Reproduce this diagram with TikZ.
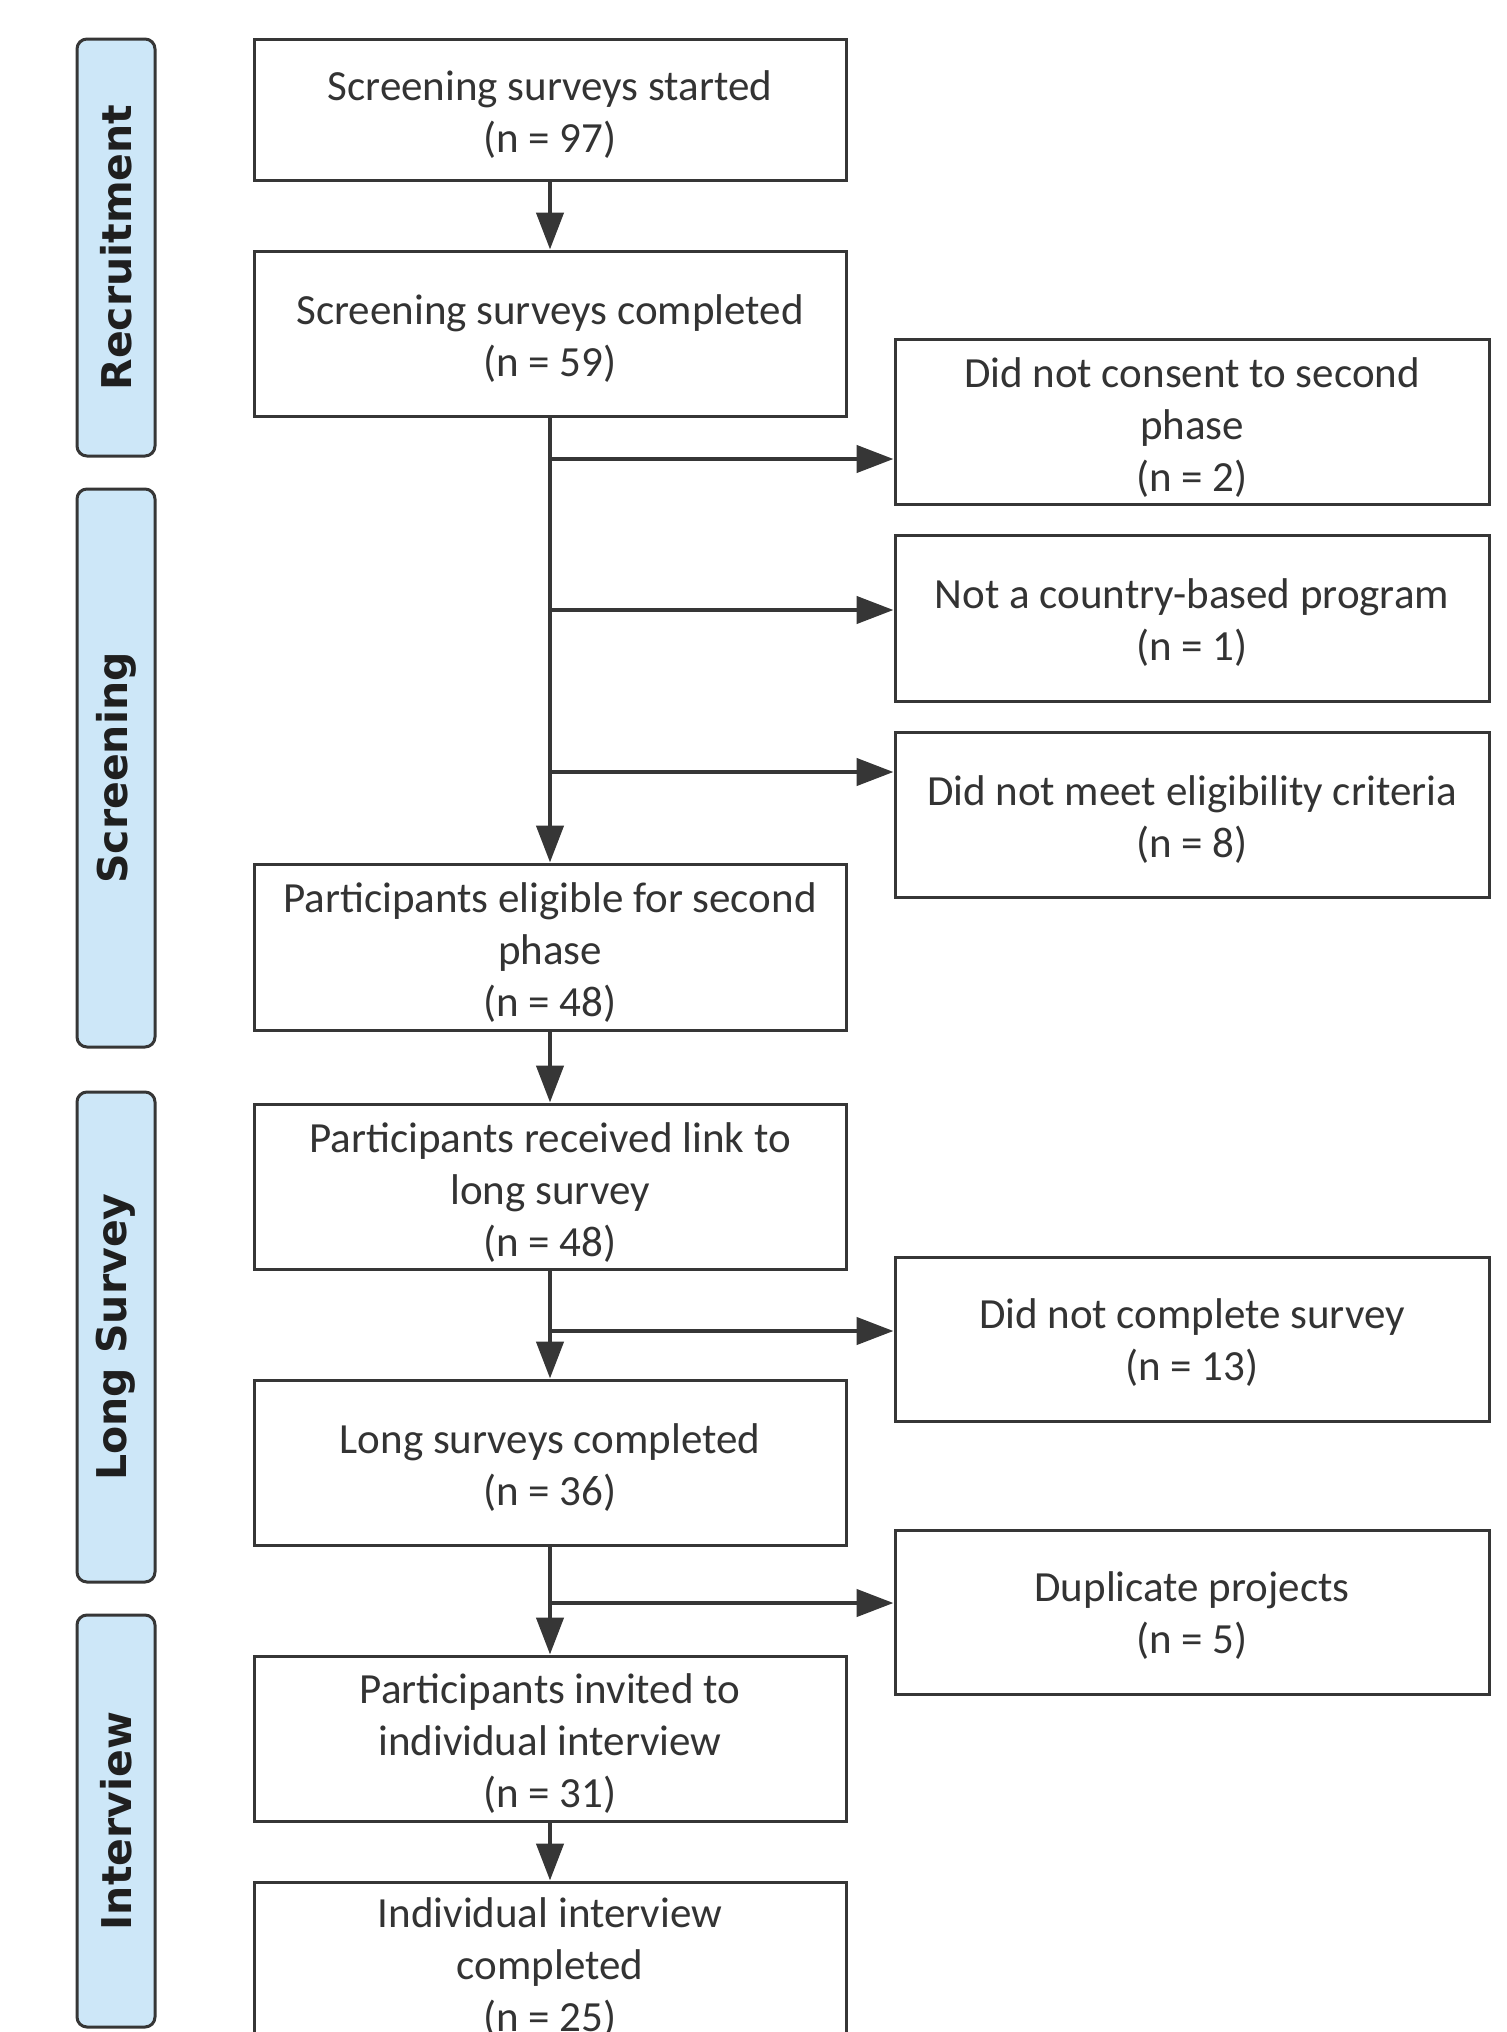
\documentclass[tikz,border=0pt]{standalone}
\usepackage{fontspec}
\setmainfont{Carlito}
\newfontfamily\lanefont{DejaVu Sans}
\usetikzlibrary{arrows.meta}
\definecolor{edge}{HTML}{363636}
\definecolor{txt}{HTML}{333333}
\definecolor{lanefill}{HTML}{CDE7F8}
\begin{document}
\begin{tikzpicture}[x=1pt,y=-1pt,
  flowbox/.style={draw=edge, line width=3pt, fill=white, inner sep=0pt, minimum width=592pt},
  sidebox/.style={flowbox, minimum width=594pt},
  boxtext/.style={align=center, inner sep=0pt, text=txt, font=\fontsize{43}{52}\selectfont},
  lanebox/.style={draw=edge, line width=3pt, fill=lanefill, rounded corners=10pt},
  lanelabel/.style={rotate=90, text=black!88, font=\lanefont\bfseries\fontsize{41}{48}\selectfont, inner sep=0pt},
  arr/.style={draw=edge, line width=4.5pt, -{Triangle[length=37pt,width=27pt]}}
]
\useasboundingbox (0,0) rectangle (1507,2032);
\clip (0,0) rectangle (1507,2032);
\fill[white] (0,0) rectangle (1507,2032);

% lanes
\draw[lanebox] (77,39) rectangle (155,456);
\node[lanelabel] (lrec) at (116,247.5) {Recruitment};
\draw[lanebox] (77,489) rectangle (155,1047);
\node[lanelabel] (lscr) at (116,768) {Screening};
\draw[lanebox] (77,1092) rectangle (155,1582);
\node[lanelabel] (llong) at (116,1337) {Long Survey};
\draw[lanebox] (77,1615) rectangle (155,2027);
\node[lanelabel] (lint) at (116,1821) {Interview};

% main boxes
\node[flowbox, minimum height=141pt] (b1) at (550,109.5) {};
\node[flowbox, minimum height=165pt] (b2) at (550,333.5) {};
\node[flowbox, minimum height=166pt] (b3) at (550,947) {};
\node[flowbox, minimum height=165pt] (b4) at (550,1186.5) {};
\node[flowbox, minimum height=165pt] (b5) at (550,1462.5) {};
\node[flowbox, minimum height=165pt] (b6) at (550,1738.5) {};
\node[flowbox, minimum height=165pt] (b7) at (550,1964.5) {};
\node[boxtext] (t1) at ([yshift=-5pt]b1.center) {Screening surveys started\\(n = 97)};
\node[boxtext] (t2) at ([yshift=-5pt]b2.center) {Screening surveys completed\\(n = 59)};
\node[boxtext] (t3) at ([yshift=-6pt]b3.center) {Participants eligible for second\\phase\\(n = 48)};
\node[boxtext] (t4) at ([yshift=-6pt]b4.center) {Participants received link to\\long survey\\(n = 48)};
\node[boxtext] (t5) at ([yshift=-5pt]b5.center) {Long surveys completed\\(n = 36)};
\node[boxtext] (t6) at ([yshift=-5pt]b6.center) {Participants invited to\\individual interview\\(n = 31)};
\node[boxtext] (t7) at ([yshift=-3pt]b7.center) {Individual interview\\completed\\(n = 25)};

% side boxes
\node[sidebox, minimum height=165pt] (r1) at (1192,421.5) {};
\node[sidebox, minimum height=166pt] (r2) at (1192,618) {};
\node[sidebox, minimum height=165pt] (r3) at (1192,814.5) {};
\node[sidebox, minimum height=164pt] (r4) at (1192,1339) {};
\node[sidebox, minimum height=164pt] (r5) at (1192,1612) {};
\node[boxtext] (s1) at ([yshift=-6pt]r1.center) {Did not consent to second\\phase\\(n = 2)};
\node[boxtext] (s2) at ([yshift=-5pt]r2.center) {Not a country-based program\\(n = 1)};
\node[boxtext] (s3) at ([yshift=-5pt]r3.center) {Did not meet eligibility criteria\\(n = 8)};
\node[boxtext] (s4) at ([yshift=-4pt]r4.center) {Did not complete survey\\(n = 13)};
\node[boxtext] (s5) at ([yshift=-4pt]r5.center) {Duplicate projects\\(n = 5)};

% junctions
\coordinate (j1) at (550,459);
\coordinate (j2) at (550,610);
\coordinate (j3) at (550,772);
\coordinate (j4) at (550,1331);
\coordinate (j5) at (550,1603);

% connectors
\draw[arr] (b1.south) -- (b2.north);
\draw[arr] (b2.south) -- (b3.north);
\draw[arr] (j1) -- (j1 -| r1.west);
\draw[arr] (j2) -- (j2 -| r2.west);
\draw[arr] (j3) -- (j3 -| r3.west);
\draw[arr] (b3.south) -- (b4.north);
\draw[arr] (b4.south) -- (b5.north);
\draw[arr] (j4) -- (j4 -| r4.west);
\draw[arr] (b5.south) -- (b6.north);
\draw[arr] (j5) -- (j5 -| r5.west);
\draw[arr] (b6.south) -- (b7.north);
\end{tikzpicture}
\end{document}
